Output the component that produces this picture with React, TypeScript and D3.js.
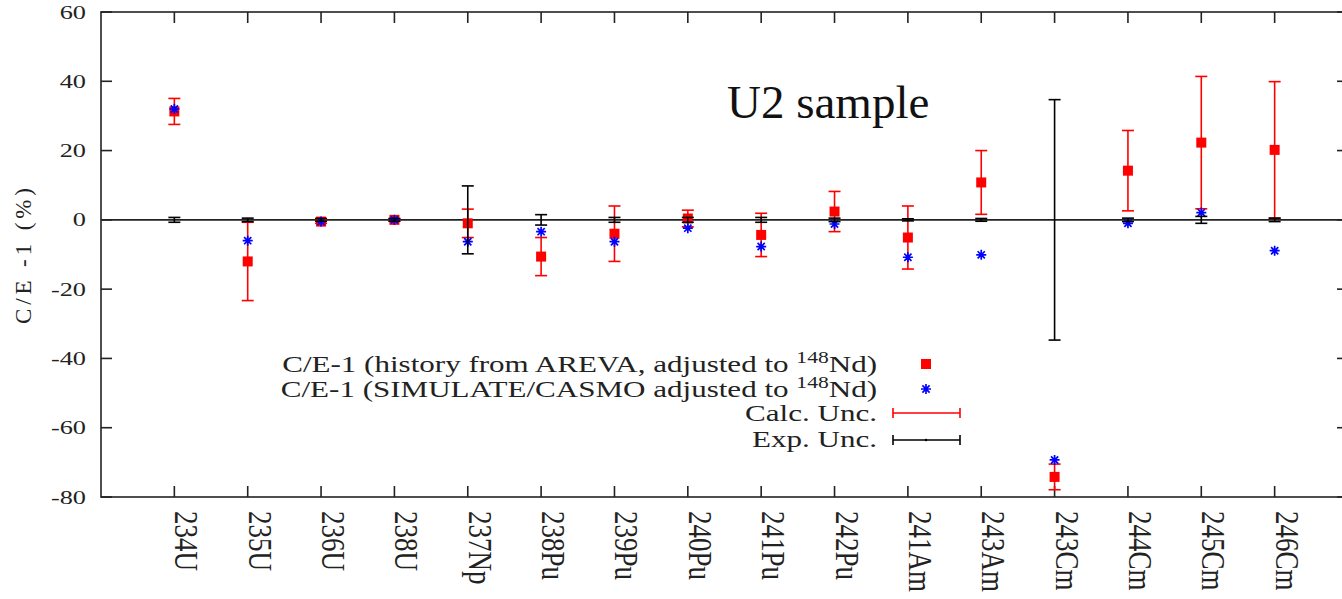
import React from 'react';
import * as d3 from 'd3';

const isotopes = ["234U","235U","236U","238U","237Np","238Pu","239Pu","240Pu","241Pu","242Pu","241Am","243Am","243Cm","244Cm","245Cm","246Cm"];
const arevaCE = [31.3, -12.0, -0.5, 0.0, -1.0, -10.6, -4.0, 0.4, -4.35, 2.4, -5.1, 10.8, -74.2, 14.2, 22.3, 20.2];
const calcUnc = [3.75, 11.3, 0.5, 0.3, 4.1, 5.5, 8.0, 2.4, 6.25, 5.8, 9.1, 9.2, 3.7, 11.6, 19.1, 19.7];
const simulateCE = [32.0, -6.0, -0.5, 0.0, -6.3, -3.4, -6.3, -2.4, -7.7, -1.2, -10.8, -10.1, -69.3, -1.0, 2.1, -8.9];
const expUnc = [0.7, 0.5, 0.4, 0.4, 9.8, 1.5, 0.7, 0.7, 0.7, 0.5, 0.3, 0.4, 34.7, 0.5, 1.0, 0.5];
const yTickValues = [-80, -60, -40, -20, 0, 20, 40, 60];

const FONT = '"Liberation Serif", "DejaVu Serif", serif';
const AX = '#222';
const RED = '#ff0000';
const BLUE = '#0000ff';

function ErrBar({ cx, y1, y2, color, cap = 6, sw = 1.6 }: any) {
  return (
    <g stroke={color} strokeWidth={sw} fill="none">
      <line x1={cx} x2={cx} y1={y1} y2={y2} />
      <line x1={cx - cap} x2={cx + cap} y1={y1} y2={y1} />
      <line x1={cx - cap} x2={cx + cap} y1={y2} y2={y2} />
    </g>
  );
}

function Star({ cx, cy }: any) {
  const r = 5, d = 3.6;
  return (
    <path
      transform={`translate(${cx},${cy})`}
      d={`M${-r},0H${r}M0,${-r}V${r}M${-d},${-d}L${d},${d}M${-d},${d}L${d},${-d}`}
      stroke={BLUE}
      strokeWidth={1.7}
      fill="none"
    />
  );
}

export default function App() {
  const W = 1342, H = 599;
  const x = d3.scaleLinear().domain([0, 17]).range([101, 1348]);
  const y = d3.scaleLinear().domain([-80, 60]).range([497, 12]);
  const x0 = x(0), x1 = x(17), yTop = y(60), yBot = y(-80);
  const tickLen = 11;
  const sx = 1.35;

  return (
    <svg width={W} height={H} style={{ position: 'absolute', left: 0, top: 0, background: '#fff' }} fontFamily={FONT}>
      <rect x={0} y={0} width={W} height={H} fill="#fff" />
      {/* zero axis */}
      <line x1={x0} x2={x1} y1={y(0)} y2={y(0)} stroke={AX} strokeWidth={1.6} />
      {/* border */}
      <rect x={x0} y={yTop} width={x1 - x0} height={yBot - yTop} fill="none" stroke={AX} strokeWidth={1.6} />
      {/* y ticks */}
      {yTickValues.map((v) => (
        <g key={'yt' + v}>
          <line x1={x0} x2={x0 + tickLen} y1={y(v)} y2={y(v)} stroke={AX} strokeWidth={1.6} />
          <line x1={x1} x2={x1 - tickLen} y1={y(v)} y2={y(v)} stroke={AX} strokeWidth={1.6} />
          <g transform={`translate(86,${y(v) + 6.5}) scale(${sx},1)`}>
            <text textAnchor="end" fontSize={19.5} fill="#222">{v}</text>
          </g>
        </g>
      ))}
      {/* x ticks */}
      {isotopes.map((name, i) => (
        <g key={'xt' + name}>
          <line x1={x(i + 1)} x2={x(i + 1)} y1={yBot} y2={yBot - tickLen} stroke={AX} strokeWidth={1.6} />
          <line x1={x(i + 1)} x2={x(i + 1)} y1={yTop} y2={yTop + tickLen} stroke={AX} strokeWidth={1.6} />
          <g transform={`translate(${x(i + 1) + 1},511) scale(1.25,1) rotate(90)`}>
            <text textAnchor="start" fontSize={27} fill="#222">{name}</text>
          </g>
        </g>
      ))}
      {/* y axis label */}
      <g transform={`translate(31,256) rotate(-90)`}>
        <text textAnchor="middle" fontSize={23} fill="#222" textLength={136} lengthAdjust="spacing">C/E -1 (%)</text>
      </g>
      {/* title */}
      <text x={727} y={118} fontSize={47} fill="#111">U2 sample</text>

      {/* calc error bars + squares */}
      {isotopes.map((name, i) => (
        <g key={'r' + name}>
          <ErrBar cx={x(i + 1)} y1={y(arevaCE[i] + calcUnc[i])} y2={y(arevaCE[i] - calcUnc[i])} color={RED} />
          <rect x={x(i + 1) - 5} y={y(arevaCE[i]) - 5} width={10} height={10} fill={RED} />
        </g>
      ))}
      {/* simulate stars */}
      {isotopes.map((name, i) => (
        <Star key={'b' + name} cx={x(i + 1)} cy={y(simulateCE[i])} />
      ))}
      {/* experimental uncertainty */}
      {isotopes.map((name, i) => (
        <ErrBar key={'k' + name} cx={x(i + 1)} y1={y(expUnc[i])} y2={y(-expUnc[i])} color="#000" />
      ))}

      {/* legend */}
      <g fill="#222" fontSize={23}>
        <g transform={`translate(877,372) scale(${sx},1)`}>
          <text textAnchor="end">C/E-1 (history from AREVA, adjusted to <tspan dy={-9} fontSize={16}>148</tspan><tspan dy={9}>Nd)</tspan></text>
        </g>
        <g transform={`translate(877,397) scale(${sx},1)`}>
          <text textAnchor="end">C/E-1 (SIMULATE/CASMO adjusted to <tspan dy={-9} fontSize={16}>148</tspan><tspan dy={9}>Nd)</tspan></text>
        </g>
        <g transform={`translate(877,421) scale(${sx},1)`}>
          <text textAnchor="end">Calc. Unc.</text>
        </g>
        <g transform={`translate(877,447) scale(${sx},1)`}>
          <text textAnchor="end">Exp. Unc.</text>
        </g>
      </g>
      <rect x={921} y={359} width={10} height={10} fill={RED} />
      <Star cx={926} cy={389} />
      <g stroke={RED} strokeWidth={1.6}>
        <line x1={893} x2={960} y1={413} y2={413} />
        <line x1={893} x2={893} y1={408} y2={418} />
        <line x1={960} x2={960} y1={408} y2={418} />
      </g>
      <g stroke="#000" strokeWidth={1.6}>
        <line x1={893} x2={960} y1={440} y2={440} />
        <line x1={893} x2={893} y1={435} y2={445} />
        <line x1={960} x2={960} y1={435} y2={445} />
      </g>
      <circle cx={926} cy={440} r={1.3} fill="#000" />
    </svg>
  );
}
